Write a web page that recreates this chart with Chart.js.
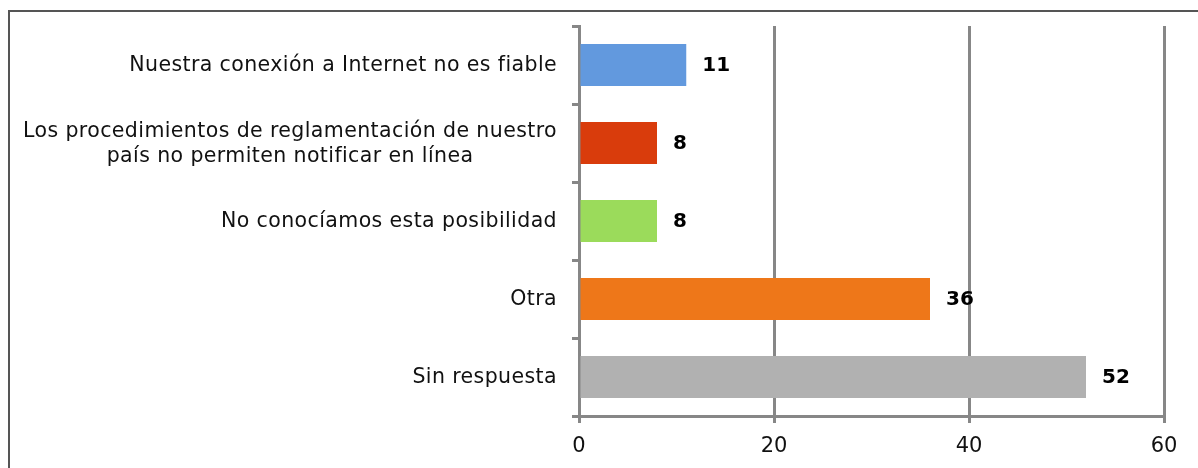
<!DOCTYPE html>
<html>
<head>
<meta charset="utf-8">
<script src="https://cdn.jsdelivr.net/npm/chart.js@4/dist/chart.umd.min.js"></script>
<style>
  html, body { margin: 0; padding: 0; background: #fff; overflow: hidden; }
  #wrap { position: relative; width: 1198px; height: 468px; }
  #frame {
    position: absolute; left: 8px; top: 10px; width: 1400px; height: 600px;
    border-left: 2px solid #555; border-top: 2px solid #555;
    pointer-events: none;
  }
  canvas { position: absolute; left: 0; top: 0; }
</style>
</head>
<body>
<div id="wrap">
  <div id="frame"></div>
  <canvas id="chart" width="1198" height="468"></canvas>
</div>
<script>
// Categories (top to bottom), values and bar colours
const categories = [
  ['Nuestra conexión a Internet no es fiable'],
  ['Los procedimientos de reglamentación de nuestro', 'país no permiten notificar en línea'],
  ['No conocíamos esta posibilidad'],
  ['Otra'],
  ['Sin respuesta'],
];
const values = [11, 8, 8, 36, 52];
const barColors = ['#6299de', '#d93c0c', '#9bdb5b', '#ee7719', '#b1b1b1'];
const xTicks = [0, 20, 40, 60];

const FONT = "'DejaVu Sans', Verdana, sans-serif";
const AXIS = '#878787';

// ─── Value labels at bar ends ────────────────────────────────────────────────
const valueLabels = {
  id: 'valueLabels',
  afterDatasetsDraw(chart) {
    const ctx = chart.ctx;
    const meta = chart.getDatasetMeta(0);
    ctx.save();
    ctx.font = `bold 20px ${FONT}`;
    ctx.fillStyle = '#000';
    ctx.textAlign = 'left';
    ctx.textBaseline = 'middle';
    meta.data.forEach((bar, i) => {
      ctx.fillText(String(values[i]), bar.x + 16, bar.y + 1);
    });
    ctx.restore();
  },
};

// ─── Category labels (multi-line blocks centred, block right-aligned) ────────
const categoryLabels = {
  id: 'categoryLabels',
  afterDraw(chart) {
    const ctx = chart.ctx;
    const y = chart.scales.y;
    const right = y.right - 22;
    const lineH = 25;
    ctx.save();
    ctx.font = `20.5px ${FONT}`;
    ctx.letterSpacing = '0.4px';
    ctx.fillStyle = '#111';
    ctx.textAlign = 'left';
    ctx.textBaseline = 'middle';
    categories.forEach((lines, i) => {
      const cy = y.getPixelForValue(i) + 1;
      const widths = lines.map(l => ctx.measureText(l).width);
      const w = Math.max(...widths);
      const top = cy - (lines.length - 1) * lineH / 2;
      lines.forEach((l, k) => {
        const x = right - w + (w - widths[k]) / 2;
        ctx.fillText(l, x, top + k * lineH);
      });
    });
    ctx.restore();
  },
};

new Chart(document.getElementById('chart'), {
  type: 'bar',
  data: {
    labels: categories.map(c => c.join(' ')),
    datasets: [{
      data: values,
      backgroundColor: barColors,
      borderWidth: 0,
      barPercentage: 0.54,
      categoryPercentage: 1,
    }],
  },
  options: {
    indexAxis: 'y',
    responsive: false,
    animation: false,
    layout: { padding: { left: 0, right: 34, top: 26, bottom: 0 } },
    plugins: {
      legend: { display: false },
      tooltip: { enabled: false },
    },
    scales: {
      x: {
        min: 0,
        max: 60,
        afterBuildTicks: axis => { axis.ticks = xTicks.map(v => ({ value: v })); },
        afterFit: axis => { axis.height = 52; },
        grid: { color: AXIS, lineWidth: 3, tickLength: 7 },
        border: { color: AXIS, width: 3 },
        ticks: {
          color: '#111',
          font: { family: FONT, size: 21 },
          padding: 11,
        },
      },
      y: {
        afterFit: axis => { axis.width = 579; },
        grid: { drawOnChartArea: false, color: AXIS, lineWidth: 3, tickLength: 7 },
        border: { color: AXIS, width: 3 },
        ticks: { display: false },
      },
    },
  },
  plugins: [valueLabels, categoryLabels],
});
</script>
</body>
</html>
